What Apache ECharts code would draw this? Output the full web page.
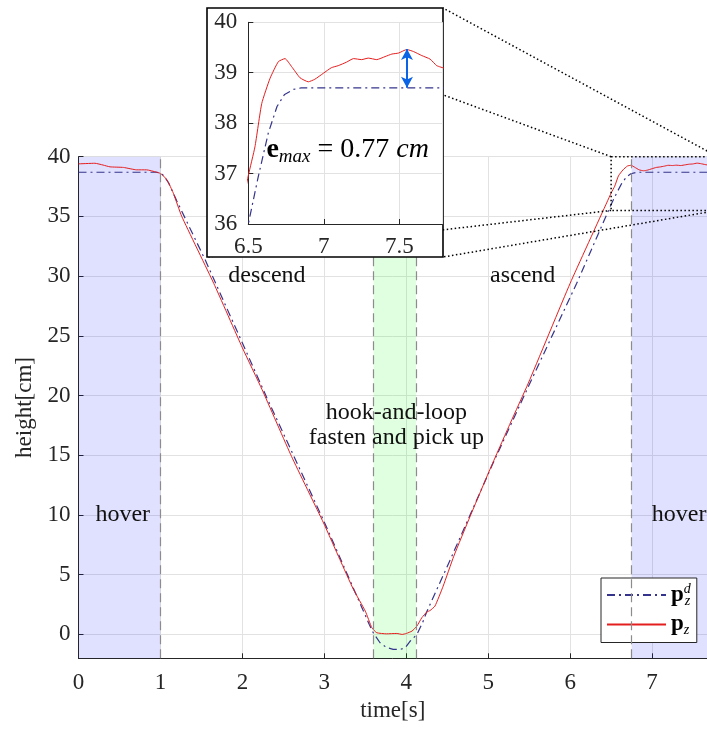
<!DOCTYPE html>
<html><head><meta charset="utf-8">
<script src="https://cdn.jsdelivr.net/npm/echarts@6/dist/echarts.min.js"></script>
<style>html,body{margin:0;padding:0;background:#fff}#c{width:707px;height:729px}</style>
</head><body><div id="c"></div>
<script>
// ---- data ----
const desiredT = [0, 0.95, 1.0, 1.05, 1.1, 1.2, 1.55, 2.0, 2.3, 3.0, 3.5, 3.55, 3.6, 3.68, 3.76, 3.84, 3.93, 3.99, 4.05, 4.13, 4.2, 4.25, 4.54, 5.05, 5.5, 6.08, 6.5, 6.566, 6.632, 6.69, 6.74, 6.8, 6.85, 7.8];
const desiredH = [38.7, 38.7, 38.65, 38.35, 37.8, 36.3, 31.3, 24.4, 19.8, 9.4, 1.6, 0.8, 0.1, -0.7, -1.1, -1.25, -1.25, -1.1, -0.55, 0.0, 1.0, 1.9, 6.3, 14.2, 20.9, 29.4, 36.0, 36.94, 37.8, 38.33, 38.57, 38.67, 38.7, 38.7];
const actualT = [0, 0.2, 0.3, 0.385, 0.55, 0.71, 0.83, 0.955, 1.0, 1.05, 1.1, 1.16, 1.26, 1.65, 2.0, 2.24, 2.6, 2.99, 3.19, 3.355, 3.5, 3.58, 3.64, 3.76, 3.885, 3.95, 4.0, 4.07, 4.13, 4.19, 4.25, 4.29, 4.35, 4.45, 4.58, 4.78, 5.02, 5.27, 5.49, 6.0, 6.45, 6.5, 6.544, 6.589, 6.644, 6.699, 6.743, 6.787, 6.842, 6.897, 6.94, 6.997, 7.05, 7.095, 7.15, 7.196, 7.25, 7.294, 7.35, 7.405, 7.45, 7.494, 7.549, 7.593, 7.648, 7.703, 7.747, 7.797];
const actualH = [39.4, 39.45, 39.3, 39.15, 39.1, 38.9, 38.9, 38.7, 38.6, 38.3, 37.8, 36.9, 35.0, 29.4, 24.0, 20.5, 14.9, 9.34, 6.27, 3.77, 1.95, 0.56, 0.14, 0.05, 0.08, 0.0, 0.08, 0.28, 0.7, 1.4, 1.87, 2.0, 2.37, 4.04, 6.55, 9.9, 13.8, 17.7, 21.05, 29.4, 36.2, 36.96, 37.53, 38.39, 38.89, 39.22, 39.28, 39.12, 38.9, 38.82, 38.87, 38.99, 39.1, 39.14, 39.21, 39.28, 39.26, 39.29, 39.26, 39.32, 39.37, 39.39, 39.46, 39.42, 39.34, 39.27, 39.14, 39.09];

const hoverStart = [0, 1];
const pickupBand = [3.6, 4.12];
const hoverEnd = [6.75, 7.8];
const phaseLines = [1, 3.6, 4.12, 6.75];

const regionLabels = ['descend', 'ascend', 'hook-and-loop\nfasten and pick up', 'hover', 'hover'];
const regionLabelX = [2.3, 5.42, 3.88, 0.54, 7.33];
const regionLabelY = [30, 30, 17.55, 10, 10];

const zoomBoxX = [6.5, 7.8];
const zoomBoxY = [35.5, 40];

const errorX = 7.55;
const errorLow = 38.7;
const errorHigh = 39.47;
const errorText = '0.77';

// ---- styling ----
const F = "'Liberation Serif', 'DejaVu Serif', serif";
const NAVY = '#34348c';
const RED = '#e41e1e';
const AX = '#262626';
const GRIDC = '#e2e2e2';
const insetFrame = {x: 207, y: 8, w: 236, h: 249};

const zip = (a, b) => a.map((v, i) => [v, b[i]]);

const chart = echarts.init(document.getElementById('c'), null, {renderer: 'canvas'});

function axisCommon(z) {
  return {
    z: z,
    axisLine: {show: true, onZero: false, lineStyle: {color: AX, width: 1}},
    axisTick: {show: true, inside: true, length: 5, lineStyle: {color: AX, width: 1}},
    splitLine: {show: true, lineStyle: {color: GRIDC, width: 1}},
  };
}

const option = {
  animation: false,
  backgroundColor: '#fff',
  grid: [
    {left: 78.5, right: 0, top: 156.7, bottom: 70.7, containLabel: false},
    {left: 248.3, top: 22.3, width: 194.2, height: 201.7, containLabel: false}
  ],
  xAxis: [
    Object.assign(axisCommon(0), {
      gridIndex: 0, type: 'value', min: 0, max: 7.67, interval: 1,
      axisLabel: {showMaxLabel: false, margin: 13, color: AX, fontFamily: F, fontSize: 23},
      name: 'time[s]', nameLocation: 'middle', nameGap: 40,
      nameTextStyle: {fontFamily: F, fontSize: 23, color: AX}
    }),
    Object.assign(axisCommon(20), {
      gridIndex: 1, type: 'value', min: 6.5, max: 7.785, interval: 0.5,
      axisLabel: {showMaxLabel: false, margin: 11, color: AX, fontFamily: F, fontSize: 23}
    })
  ],
  yAxis: [
    Object.assign(axisCommon(0), {
      gridIndex: 0, type: 'value', min: -2, max: 40, splitNumber: 8,
      axisLabel: {showMinLabel: false, margin: 8, color: AX, fontFamily: F, fontSize: 23},
      name: 'height[cm]', nameLocation: 'middle', nameGap: 39,
      nameTextStyle: {fontFamily: F, fontSize: 23, color: AX}
    }),
    Object.assign(axisCommon(20), {
      gridIndex: 1, type: 'value', min: 36, max: 40, interval: 1,
      axisLabel: {margin: 11, color: AX, fontFamily: F, fontSize: 23}
    })
  ],
  legend: {
    show: true,
    data: ['pzd', 'pz'],
    orient: 'vertical',
    left: 601, top: 578,
    itemWidth: 59, itemHeight: 14, itemGap: 5,
    padding: [4, 6, 5, 5],
    backgroundColor: '#fff',
    borderColor: AX, borderWidth: 1, borderRadius: 0,
    itemStyle: {opacity: 0},
    formatter: function (name) {
      return name === 'pzd' ? '{b|p}{u|d}{s|z}' : '{b|p}{s|z}';
    },
    textStyle: {
      fontFamily: F, color: '#000',
      rich: {
        b: {fontFamily: F, fontWeight: 'bold', fontSize: 23, lineHeight: 26, verticalAlign: 'middle', color: '#000'},
        s: {fontFamily: F, fontStyle: 'italic', fontSize: 14, lineHeight: 14, verticalAlign: 'bottom', color: '#000'},
        u: {fontFamily: F, fontStyle: 'italic', fontSize: 14, lineHeight: 14, verticalAlign: 'top', width: 1, color: '#000'}
      }
    }
  },
  series: [
    {
      name: 'pzd', type: 'line', xAxisIndex: 0, yAxisIndex: 0, z: 2,
      data: zip(desiredT, desiredH), symbol: 'none', showSymbol: false,
      color: NAVY,
      lineStyle: {color: NAVY, width: 1.2, type: [8, 4, 2, 4]},
      silent: true,
      markArea: {
        silent: true,
        data: [
          [{xAxis: hoverStart[0], itemStyle: {color: 'rgba(0,0,255,0.12)'}}, {xAxis: hoverStart[1]}],
          [{xAxis: pickupBand[0], itemStyle: {color: 'rgba(0,255,0,0.12)'}}, {xAxis: pickupBand[1]}],
          [{xAxis: hoverEnd[0], itemStyle: {color: 'rgba(0,0,255,0.12)'}}, {xAxis: hoverEnd[1]}]
        ]
      },
      markLine: {
        silent: true, symbol: 'none', label: {show: false},
        lineStyle: {color: '#8c8c8c', width: 1.2, type: [9, 5]},
        data: phaseLines.map(v => ({xAxis: v}))
      },
      markPoint: {
        silent: true, symbol: 'circle', symbolSize: 0,
        itemStyle: {color: 'rgba(0,0,0,0)'},
        label: {show: true, position: 'inside', formatter: '{b}', fontFamily: F, fontSize: 24, lineHeight: 25, color: '#111'},
        data: regionLabels.map((t, i) => ({name: t, coord: [regionLabelX[i], regionLabelY[i]]}))
      }
    },
    {
      name: 'pz', type: 'line', xAxisIndex: 0, yAxisIndex: 0, z: 3,
      data: zip(actualT, actualH), symbol: 'none', showSymbol: false,
      color: RED, smooth: 0.15,
      lineStyle: {color: RED, width: 1},
      silent: true
    },
    {
      name: 'pzd', type: 'line', xAxisIndex: 1, yAxisIndex: 1, z: 20,
      data: zip(desiredT, desiredH), symbol: 'none', showSymbol: false,
      color: NAVY,
      lineStyle: {color: NAVY, width: 1.2, type: [8, 4, 2, 4]},
      silent: true
    },
    {
      name: 'pz', type: 'line', xAxisIndex: 1, yAxisIndex: 1, z: 21,
      data: zip(actualT, actualH), symbol: 'none', showSymbol: false,
      color: RED, smooth: 0.15,
      lineStyle: {color: RED, width: 1},
      silent: true,
      markLine: {
        z: 25, silent: true, symbol: ['arrow', 'arrow'], symbolSize: [9, 11],
        label: {show: false},
        lineStyle: {color: '#0b63e5', width: 2, type: 'solid'},
        data: [[{coord: [errorX, errorLow]}, {coord: [errorX, errorHigh]}]]
      },
      markPoint: {
        z: 25, silent: true, symbol: 'circle', symbolSize: 0,
        itemStyle: {color: 'rgba(0,0,0,0)'},
        label: {
          show: true, position: 'right', distance: 0,
          formatter: '{e|e}{m|max}{t| = ' + errorText + ' }{c|cm}',
          rich: {
            e: {fontFamily: F, fontWeight: 'bold', fontSize: 28, lineHeight: 34, verticalAlign: 'middle', color: '#000'},
            m: {fontFamily: F, fontStyle: 'italic', fontSize: 19, lineHeight: 20, verticalAlign: 'bottom', color: '#000'},
            t: {fontFamily: F, fontSize: 28, lineHeight: 34, verticalAlign: 'middle', color: '#000'},
            c: {fontFamily: F, fontStyle: 'italic', fontSize: 28, lineHeight: 34, verticalAlign: 'middle', color: '#000'}
          }
        },
        data: [{name: 'emax', coord: [6.62, 37.47]}]
      }
    }
  ]
};

chart.setOption(option);

// zoom box, connectors and inset frame (positions derived from the main axes)
const P = (x, y) => chart.convertToPixel({gridIndex: 0}, [x, y]);
const tl = P(zoomBoxX[0], zoomBoxY[1]);
const tr = P(zoomBoxX[1], zoomBoxY[1]);
const bl = P(zoomBoxX[0], zoomBoxY[0]);
const br = P(zoomBoxX[1], zoomBoxY[0]);
const fL = insetFrame.x, fT = insetFrame.y, fR = insetFrame.x + insetFrame.w, fB = insetFrame.y + insetFrame.h;
const dotted = {stroke: '#000', lineWidth: 1.5, lineDash: [1.5, 2.5], fill: null};
chart.setOption({
  graphic: {
    elements: [
      {type: 'rect', z: 5, silent: true, shape: {x: tl[0], y: tl[1], width: tr[0] - tl[0], height: bl[1] - tl[1]}, style: Object.assign({}, dotted, {fill: 'none'})},
      {type: 'line', z: 5, silent: true, shape: {x1: tr[0], y1: tr[1], x2: fR, y2: fT}, style: dotted},
      {type: 'line', z: 5, silent: true, shape: {x1: tl[0], y1: tl[1], x2: fL, y2: fT}, style: dotted},
      {type: 'line', z: 5, silent: true, shape: {x1: bl[0], y1: bl[1], x2: fL, y2: fB}, style: dotted},
      {type: 'line', z: 5, silent: true, shape: {x1: br[0], y1: br[1], x2: fR, y2: fB}, style: dotted},
      {type: 'rect', z: 10, silent: true, shape: {x: fL, y: fT, width: insetFrame.w, height: insetFrame.h}, style: {fill: '#fff', stroke: '#000', lineWidth: 1.6}}
    ]
  }
});
</script>
</body></html>
